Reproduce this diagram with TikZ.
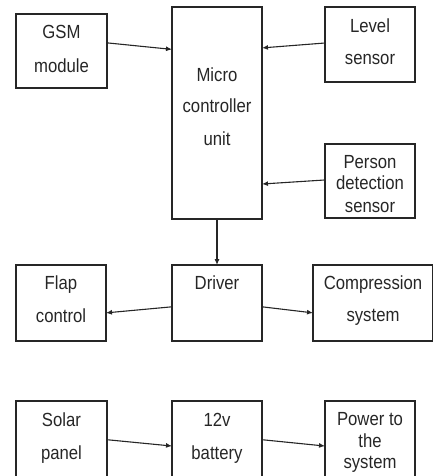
\documentclass[tikz,border=0pt]{standalone}
\usepackage{fontspec}
\setmainfont{Liberation Sans}[FakeStretch=0.88]
\usetikzlibrary{calc,arrows.meta}
\begin{document}
\begin{tikzpicture}[x=1pt,y=-1pt,
  box/.style={draw=black!85,line width=1.1pt,inner sep=0pt,outer sep=0pt},
  txt/.style={anchor=base,inner sep=0pt,font=\fontsize{19}{22}\selectfont,text=black!85},
  arr/.style={draw=black!85,line width=1.1pt,-{Latex[length=6pt,width=5pt]}}]
\useasboundingbox (0,0) rectangle (432,476);
% boxes
\node[box,minimum width=91pt,minimum height=74pt] (gsm) at (61.5,51) {};
\node[box,minimum width=90pt,minimum height=212pt] (mcu) at (217,113) {};
\node[box,minimum width=90pt,minimum height=75pt] (level) at (370,44.5) {};
\node[box,minimum width=90pt,minimum height=74pt] (person) at (370,181) {};
\node[box,minimum width=90pt,minimum height=76pt] (flap) at (61,303) {};
\node[box,minimum width=90pt,minimum height=76pt] (driver) at (217,303) {};
\node[box,minimum width=120pt,minimum height=76pt] (comp) at (373,303) {};
\node[box,minimum width=91pt,minimum height=79pt] (solar) at (61.5,440.5) {};
\node[box,minimum width=90pt,minimum height=79pt] (battery) at (217,440.5) {};
\node[box,minimum width=90pt,minimum height=79pt] (power) at (370,440.5) {};
% texts
\node[txt] (t1) at (61.5,39) {GSM};
\node[txt] (t2) at (61.5,73) {module};
\node[txt] (t3) at (217,82) {Micro};
\node[txt] (t4) at (217,113) {controller};
\node[txt] (t5) at (217,145) {unit};
\node[txt] (t6) at (370,33) {Level};
\node[txt] (t7) at (370,65) {sensor};
\node[txt] (t8) at (370,168) {Person};
\node[txt] (t9) at (370,189) {detection};
\node[txt] (t10) at (370,212) {sensor};
\node[txt] (t11) at (61,289) {Flap};
\node[txt] (t12) at (61,322) {control};
\node[txt] (t13) at (217,289) {Driver};
\node[txt] (t14) at (373,289) {Compression};
\node[txt] (t15) at (373,321) {system};
\node[txt] (t16) at (61.5,426) {Solar};
\node[txt] (t17) at (61.5,459) {panel};
\node[txt] (t18) at (217,426) {12v};
\node[txt] (t19) at (217,459) {battery};
\node[txt] (t20) at (370,425) {Power to};
\node[txt] (t21) at (370,447) {the};
\node[txt] (t22) at (370,468) {system};
% arrows
\draw[arr] ($(gsm.north east)!0.39!(gsm.south east)$) -- ($(mcu.north west)!0.2!(mcu.south west)$);
\draw[arr] ($(level.north west)!0.48!(level.south west)$) -- ($(mcu.north east)!0.193!(mcu.south east)$);
\draw[arr] ($(person.north west)!0.486!(person.south west)$) -- ($(mcu.north east)!0.835!(mcu.south east)$);
\draw[arr] (mcu.south) -- (driver.north);
\draw[arr] ($(driver.north west)!0.55!(driver.south west)$) -- ($(flap.north east)!0.63!(flap.south east)$);
\draw[arr] ($(driver.north east)!0.55!(driver.south east)$) -- ($(comp.north west)!0.63!(comp.south west)$);
\draw[arr] ($(solar.north east)!0.49!(solar.south east)$) -- ($(battery.north west)!0.57!(battery.south west)$);
\draw[arr] ($(battery.north east)!0.49!(battery.south east)$) -- ($(power.north west)!0.57!(power.south west)$);
\end{tikzpicture}
\end{document}
